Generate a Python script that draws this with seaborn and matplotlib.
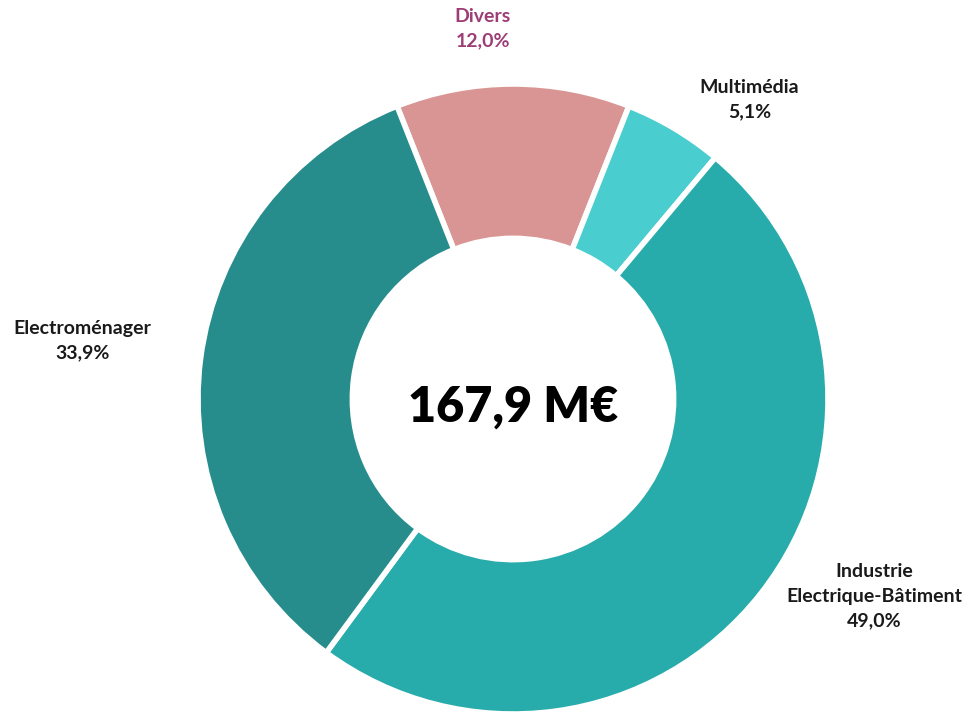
import matplotlib
matplotlib.use("Agg")
import matplotlib.pyplot as plt
import seaborn as sns

segments = ["Divers", "Multimédia", "Industrie\nElectrique-Bâtiment", "Electroménager"]
shares = [12.0, 5.1, 49.0, 33.9]
total_label = "167,9 M€"

colors = ["#D99594", "#4ACDCF", "#28ABAB", "#278C8C"]
text_colors = ["#9C3D76", "#1a1a1a", "#1a1a1a", "#1a1a1a"]
# label centres in data units (radius 1 = outer edge of the ring)
label_xy = [(-0.096, 1.175), (0.751, 0.95), (1.147, -0.626), (-1.367, 0.185)]

sns.set_style("white")
plt.rcParams["font.family"] = ["Lato", "DejaVu Sans"]

fig = plt.figure(figsize=(9.71, 7.14), dpi=100)
ax = fig.add_axes([198 / 971, 0 / 714, 630 / 971, 630 / 714])

start = 90 + shares[0] / 100 * 360 / 2
ax.pie(shares, colors=colors, startangle=start, counterclock=False,
       wedgeprops=dict(width=0.49, edgecolor="white", linewidth=4))
ax.set_xlim(-1, 1)
ax.set_ylim(-1, 1)
ax.set_aspect("equal")
ax.axis("off")

for name, val, (x, y), tc in zip(segments, shares, label_xy, text_colors):
    txt = name + "\n" + f"{val:.1f}".replace(".", ",") + "%"
    ax.text(x, y, txt, ha="center", va="center", fontsize=14,
            fontweight="bold", color=tc, linespacing=1.55)

ax.text(0, -0.025, total_label, ha="center", va="center", fontsize=35,
        fontweight="heavy", color="black")

fig.savefig("out.png", dpi=100)
